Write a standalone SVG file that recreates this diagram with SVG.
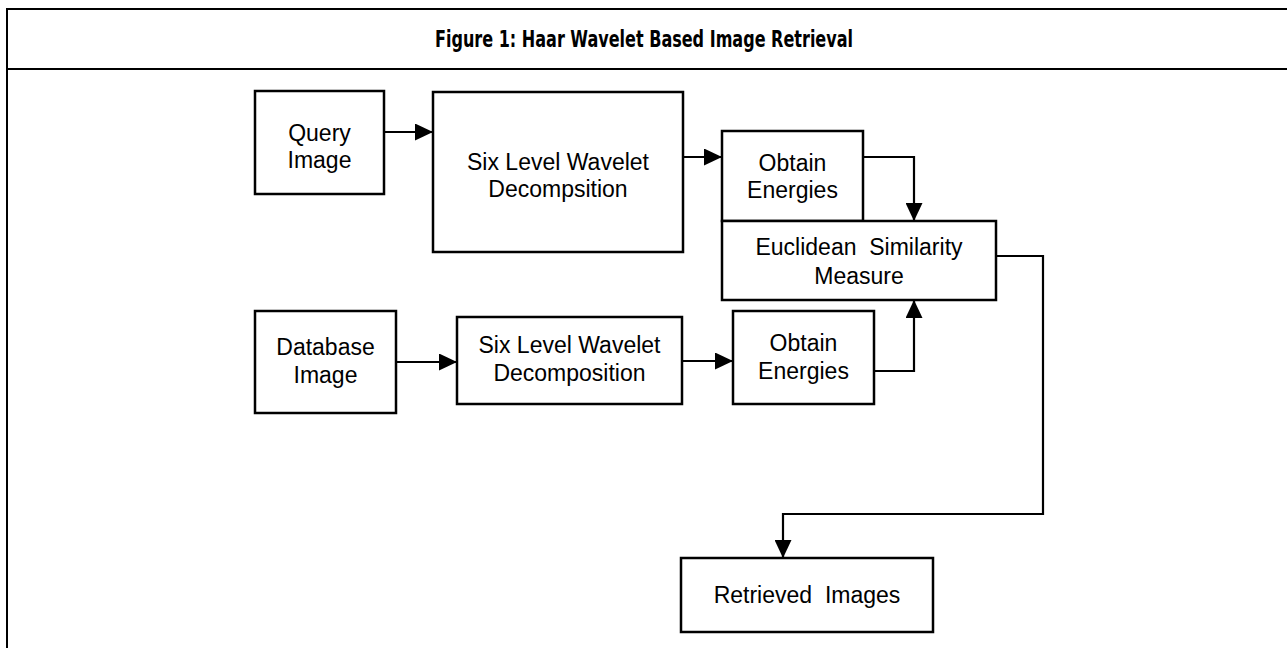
<svg xmlns="http://www.w3.org/2000/svg" width="1287" height="648" viewBox="0 0 1287 648">
<defs>
<style>
.box{fill:#fff;stroke:#000;stroke-width:2.5}
.lbl{font-family:"Liberation Sans",Arial,sans-serif;font-size:23px;fill:#000;text-anchor:middle}
.con{fill:none;stroke:#000;stroke-width:2.2}
.frame{fill:none;stroke:#000;stroke-width:2}
.title{font-family:"DejaVu Sans Condensed","DejaVu Sans",Verdana,sans-serif;font-weight:bold;font-size:23px;fill:#000;text-anchor:middle}
</style>
<marker id="ah" markerUnits="userSpaceOnUse" markerWidth="18" markerHeight="17" refX="18" refY="8.5" orient="auto">
<path d="M0,0 L18,8.5 L0,17 z" fill="#000"/>
</marker>
</defs>
<rect width="1287" height="648" fill="#fff"/>
<g id="frame">
<path class="frame" d="M7,660 V9 H1300 M7,69 H1300"/>
<text class="title" x="644" y="47" textLength="418" lengthAdjust="spacingAndGlyphs">Figure 1: Haar Wavelet Based Image Retrieval</text>
</g>
<g id="connectors">
<path class="con" d="M384,132 H433" marker-end="url(#ah)"/>
<path class="con" d="M683,157 H722" marker-end="url(#ah)"/>
<path class="con" d="M863,157 H914 V221" marker-end="url(#ah)"/>
<path class="con" d="M396,362 H457" marker-end="url(#ah)"/>
<path class="con" d="M682,361 H733" marker-end="url(#ah)"/>
<path class="con" d="M874,371 H914 V300" marker-end="url(#ah)"/>
<path class="con" d="M996,256 H1043 V514 H783 V558" marker-end="url(#ah)"/>
</g>
<g id="query">
<rect class="box" x="255" y="91" width="129" height="103"/>
<text class="lbl" x="319.5" y="141">Query</text>
<text class="lbl" x="319.5" y="168">Image</text>
</g>
<g id="decomp-top">
<rect class="box" x="433" y="92" width="250" height="160"/>
<text class="lbl" x="558" y="170">Six Level Wavelet</text>
<text class="lbl" x="558" y="197">Decompsition</text>
</g>
<g id="energies-top">
<rect class="box" x="722" y="131" width="141" height="90"/>
<text class="lbl" x="792.5" y="171">Obtain</text>
<text class="lbl" x="792.5" y="198">Energies</text>
</g>
<g id="euclidean">
<rect class="box" x="722" y="221" width="274" height="79"/>
<text class="lbl" x="859" y="255" xml:space="preserve">Euclidean  Similarity</text>
<text class="lbl" x="859" y="284">Measure</text>
</g>
<g id="database">
<rect class="box" x="255" y="311" width="141" height="102"/>
<text class="lbl" x="325.5" y="355">Database</text>
<text class="lbl" x="325.5" y="383">Image</text>
</g>
<g id="decomp-bottom">
<rect class="box" x="457" y="317" width="225" height="87"/>
<text class="lbl" x="569.5" y="353">Six Level Wavelet</text>
<text class="lbl" x="569.5" y="381">Decomposition</text>
</g>
<g id="energies-bottom">
<rect class="box" x="733" y="311" width="141" height="93"/>
<text class="lbl" x="803.5" y="351">Obtain</text>
<text class="lbl" x="803.5" y="379">Energies</text>
</g>
<g id="retrieved">
<rect class="box" x="681" y="558" width="252" height="74"/>
<text class="lbl" x="807" y="603" xml:space="preserve">Retrieved  Images</text>
</g>
</svg>
